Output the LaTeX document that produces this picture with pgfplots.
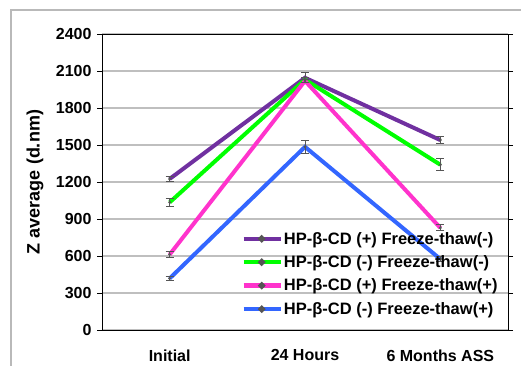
\documentclass[border=0pt]{standalone}
\usepackage{pgfplots}
\pgfplotsset{compat=1.18}
\usepackage{fontspec}
\setmainfont{Liberation Sans}
\definecolor{cpur}{HTML}{7030A0}
\definecolor{cgrn}{HTML}{00FF00}
\definecolor{cpnk}{HTML}{FF33CC}
\definecolor{cblu}{HTML}{3366FF}
\definecolor{errc}{HTML}{555555}
\begin{document}
\begin{tikzpicture}
\useasboundingbox (0pt,0pt) rectangle (521pt,365pt);
\draw[gray!55, line width=1.5pt] (11pt,-5pt) -- (11pt,355pt) -- (530pt,355pt);
\begin{axis}[
  at={(102pt,35pt)}, anchor=south west,
  width=406pt, height=296pt, scale only axis,
  xmin=-0.5, xmax=2.5, ymin=0, ymax=2400,
  xtick={0,1,2}, xticklabels={Initial,24 Hours,6 Months ASS},
  ytick={0,300,...,2400},
  xtick style={draw=none},
  ytick style={black, line width=0.8pt},
  tick align=outside, major tick length=5pt,
  ymajorgrids, grid style={gray!50, line width=1.3pt},
  axis line style={black, line width=0.9pt},
  tick label style={font=\bfseries\fontsize{16}{18}\selectfont, text=black},
  /pgf/number format/assume math mode=true,
  /pgf/number format/1000 sep={},
  yticklabel style={xshift=-2pt},
  xticklabel style={yshift=-11pt},
  ylabel={\bfseries Z average (d.nm)},
  ylabel style={font=\bfseries\fontsize{18}{20}\selectfont,
    at={(axis description cs:-0.165,0.5)}, anchor=center, rotate=0},
  legend style={at={(0.343,0.335)}, anchor=north west, draw=none, fill=none,
    font=\bfseries\fontsize{16.5}{18}\selectfont, row sep=8pt,
    inner sep=0pt, legend cell align=left,
    nodes={inner sep=1pt}},
  legend image code/.code={\draw[#1, line width=4.5pt] (0pt,0pt) -- (37pt,0pt); \fill[errc] (18pt,0pt) circle (1.2pt);},
  every axis plot/.append style={line width=4pt, mark=*, mark size=1.3pt,
    mark options={fill=errc, draw=errc, line width=0.3pt},
    /pgfplots/error bars/y dir=both, /pgfplots/error bars/y explicit,
    /pgfplots/error bars/error bar style={errc, line width=1pt},
    /pgfplots/error bars/error mark options={rotate=90, errc, mark size=4pt, line width=1pt}},
]
\addplot[cpur] coordinates {(0,1225) +- (0,20) (1,2045) +- (0,45) (2,1540) +- (0,25)};
\addlegendentry{HP-β-CD (+) Freeze-thaw(-)}
\addplot[cgrn] coordinates {(0,1035) +- (0,35) (1,2030) +- (0,20) (2,1340) +- (0,50)};
\addlegendentry{HP-β-CD (-) Freeze-thaw(-)}
\addplot[cpnk] coordinates {(0,612) +- (0,25) (1,2020) +- (0,15) (2,828) +- (0,25)};
\addlegendentry{HP-β-CD (+) Freeze-thaw(+)}
\addplot[cblu] coordinates {(0,418) +- (0,15) (1,1485) +- (0,50) (2,575) +- (0,20)};
\addlegendentry{HP-β-CD (-) Freeze-thaw(+)}
\end{axis}
\end{tikzpicture}
\end{document}
